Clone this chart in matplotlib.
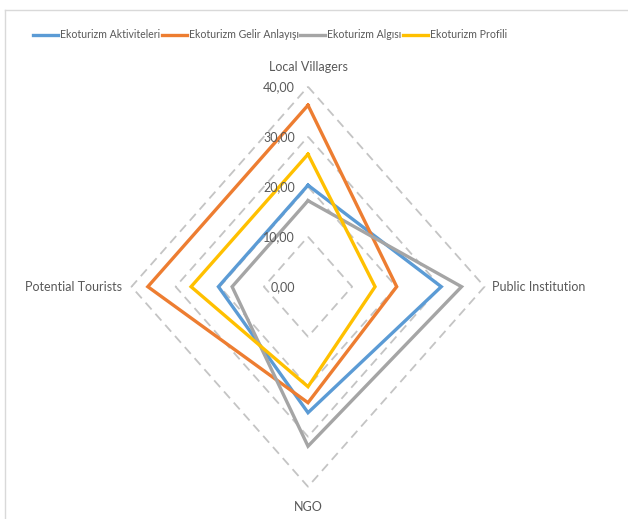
import numpy as np
import matplotlib
matplotlib.use("Agg")
import matplotlib.pyplot as plt
from matplotlib.lines import Line2D

# Radar chart data
categories = ["Local Villagers", "Public Institution", "NGO", "Potential Tourists"]
series_names = ["Ekoturizm Aktiviteleri", "Ekoturizm Gelir Anlayışı",
                "Ekoturizm Algısı", "Ekoturizm Profili"]
aktiviteleri = [20.3, 30.2, 25.2, 20.3]
gelir = [36.3, 20.1, 23.2, 36.3]
algisi = [17.2, 34.8, 31.9, 17.2]
profili = [26.5, 15.2, 20.0, 26.5]
series_values = [aktiviteleri, gelir, algisi, profili]
colors = ["#5B9BD5", "#ED7D31", "#A5A5A5", "#FFC000"]
r_ticks = [0, 10, 20, 30, 40]
r_tick_labels = ["0,00", "10,00", "20,00", "30,00", "40,00"]

plt.rcParams["font.family"] = ["Lato", "DejaVu Sans"]
text_color = "#595959"

W, H = 628, 519
fig = plt.figure(figsize=(W / 100, H / 100), dpi=100)

# Chart-area frame (top and left edges visible)
frame_color = "#D9D9D9"
fig.add_artist(Line2D([5 / W, 1.0], [1 - 10 / H, 1 - 10 / H],
                      transform=fig.transFigure, color=frame_color, lw=1.0))
fig.add_artist(Line2D([5 / W, 5 / W], [0.0, 1 - 10 / H],
                      transform=fig.transFigure, color=frame_color, lw=1.0))

# Polar axes, stretched into an ellipse-like box
cx, cy = 308.0, 286.7
rx, ry = 176.5, 200.0
ax = fig.add_axes([(cx - rx) / W, (H - cy - ry) / H, 2 * rx / W, 2 * ry / H],
                  projection="polar")
ax.set_aspect("auto")
ax.set_theta_offset(np.pi / 2)
ax.set_theta_direction(-1)
ax.set_ylim(0, 40)
ax.grid(False)
ax.spines["polar"].set_visible(False)
ax.set_xticks([])
ax.set_yticks([])
ax.patch.set_alpha(0)

n = len(categories)
angles = np.arange(n) * 2 * np.pi / n
closed_angles = np.append(angles, angles[0])

# Polygonal dashed gridlines
for r in r_ticks[1:]:
    ax.plot(closed_angles, [r] * (n + 1), color="#C4C4C4", lw=1.3,
            ls=(0, (5, 3.2)), zorder=1, clip_on=False)

# Data series
for vals, col in zip(series_values, colors):
    ax.plot(closed_angles, list(vals) + [vals[0]], color=col, lw=2.4,
            solid_joinstyle="miter", zorder=3, clip_on=False)

# Radial value labels
for r, lab in zip(r_ticks, r_tick_labels):
    ax.annotate(lab, xy=(0, r), xytext=(-13, 0), textcoords="offset pixels",
                ha="right", va="center", fontsize=9, color=text_color,
                annotation_clip=False)

# Category labels
offsets = [(0, 20, "center", "center"), (8, 0, "left", "center"),
           (0, -20, "center", "center"), (-9, 0, "right", "center")]
for ang, cat, (dx, dy, ha, va) in zip(angles, categories, offsets):
    ax.annotate(cat, xy=(ang, 40), xytext=(dx, dy), textcoords="offset pixels",
                ha=ha, va=va, fontsize=9, color=text_color,
                annotation_clip=False)

# Legend
handles = [Line2D([], [], color=c, lw=2.4) for c in colors]
fig.legend(handles, series_names, loc="center",
           bbox_to_anchor=(270 / W, 1 - 35 / H),
           ncol=4, frameon=False, fontsize=7.6, labelcolor=text_color,
           handlelength=2.4, handletextpad=0.15, columnspacing=0.15,
           borderpad=0)

fig.savefig("out.png", dpi=100)
